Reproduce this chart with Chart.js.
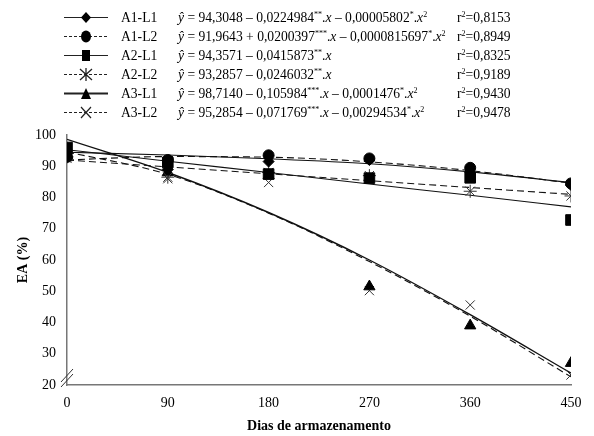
<!DOCTYPE html>
<html>
<head>
<meta charset="utf-8">
<script src="https://cdn.jsdelivr.net/npm/chart.js@4/dist/chart.umd.min.js"></script>
<style>
  body { margin: 0; background: #fff; }
  #wrap { position: relative; width: 594px; height: 436px; font-family: "Liberation Serif", serif; color: #000; }
  #myChart { position: absolute; left: 0; top: 0; }
  .row { position: absolute; left: 0; width: 594px; height: 19px; font-size: 13.6px; line-height: 19px; white-space: nowrap; }
  .row > * { position: absolute; top: 0; }
  .row svg { top: 2px; }
  sup { font-size: 8px; vertical-align: 5px; line-height: 0; }
</style>
</head>
<body>
<div id="wrap">
  <canvas id="myChart" width="594" height="436"></canvas>
  <div id="legend"></div>
</div>
<script>
// storage days
const days = [0, 90, 180, 270, 360, 450];

const seriesNames = ['A1-L1', 'A1-L2', 'A2-L1', 'A2-L2', 'A3-L1', 'A3-L2'];

// observed values (markers)
const a1l1Obs = [94, 89, 91.5, 92, 88, 84];
const a1l2Obs = [93, 92, 93.5, 92.5, 89.5, 84.5];
const a2l1Obs = [96, 91.2, 87.5, 86.2, 86.3, 72.8];
const a2l2Obs = [93, 86.5, 88, 87, 82, 80.5];
const a3l1Obs = [93.5, 88, 87, 51.5, 39, 27];
const a3l2Obs = [92.5, 86, 84.8, 50.2, 45.6, 23.2];

// fitted curves at each day
const a1l1Fit = [94.5, 93.6, 92.4, 90.8, 88.2, 84.8];
const a1l2Fit = [92, 93.1, 92.9, 91.4, 88.6, 84.6];
const a2l1Fit = [95.3, 91.6, 88, 84.3, 80.7, 77];
const a2l2Fit = [92, 89.8, 87.6, 85.4, 83.2, 81];
const a3l1Fit = [98.6, 88, 75.2, 60, 42.5, 23.8];
const a3l2Fit = [94.6, 87.4, 75, 59.5, 42, 22.6];

const equations = [
  '<i>ŷ</i> = 94,3048 – 0,0224984<sup>**</sup>.<i>x</i> – 0,00005802<sup>*</sup>.<i>x</i><sup>2</sup>',
  '<i>ŷ</i> = 91,9643 + 0,0200397<sup>***</sup>.<i>x</i> – 0,0000815697<sup>*</sup>.<i>x</i><sup>2</sup>',
  '<i>ŷ</i> = 94,3571 – 0,0415873<sup>**</sup>.<i>x</i>',
  '<i>ŷ</i> = 93,2857 – 0,0246032<sup>**</sup>.<i>x</i>',
  '<i>ŷ</i> = 98,7140 – 0,105984<sup>***</sup>.<i>x</i> – 0,0001476<sup>*</sup>.<i>x</i><sup>2</sup>',
  '<i>ŷ</i> = 95,2854 – 0,071769<sup>***</sup>.<i>x</i> – 0,00294534<sup>*</sup>.<i>x</i><sup>2</sup>'
];
const rSquared = ['0,8153', '0,8949', '0,8325', '0,9189', '0,9430', '0,9478'];

const obsList = [a1l1Obs, a1l2Obs, a2l1Obs, a2l2Obs, a3l1Obs, a3l2Obs];
const fitList = [a1l1Fit, a1l2Fit, a2l1Fit, a2l2Fit, a3l1Fit, a3l2Fit];
const markers = ['rectRot', 'circle', 'rect', 'star', 'triangle', 'crossRot'];
const markerSize = [5.5, 5.5, 7.5, 6.5, 6.5, 6.5];
const dashed = [false, true, false, true, false, true];

function toPoints(vals) {
  return vals.map((v, i) => ({ x: days[i], y: v }));
}

const datasets = [];
fitList.forEach((fit, i) => {
  datasets.push({
    label: seriesNames[i] + ' fit',
    data: toPoints(fit),
    showLine: true,
    borderColor: '#111',
    borderWidth: i == 4 ? 1.4 : 1.1,
    borderDash: dashed[i] ? [7, 4] : [],
    pointRadius: 0,
    cubicInterpolationMode: 'monotone',
    order: 2
  });
});
obsList.forEach((obs, i) => {
  const isCross = markers[i] == 'star' || markers[i] == 'crossRot';
  datasets.push({
    label: seriesNames[i],
    data: toPoints(obs),
    showLine: false,
    pointStyle: markers[i],
    pointRadius: markerSize[i],
    backgroundColor: '#000',
    borderColor: isCross ? '#333' : '#000',
    borderWidth: 1,
    order: 1
  });
});

// little // marks at the bottom of the y axis
const axisBreak = {
  id: 'axisBreak',
  afterDraw(chart) {
    const ctx = chart.ctx;
    const x0 = chart.scales.x.getPixelForValue(0);
    const y0 = chart.scales.y.getPixelForValue(20);
    ctx.save();
    ctx.strokeStyle = '#333';
    ctx.lineWidth = 1;
    ctx.beginPath();
    ctx.moveTo(x0 - 6, y0 + 2); ctx.lineTo(x0 + 6, y0 - 11);
    ctx.moveTo(x0 - 6, y0 - 3); ctx.lineTo(x0 + 6, y0 - 16);
    ctx.stroke();
    ctx.restore();
  }
};

const tickFont = { family: 'Liberation Serif', size: 14 };

new Chart(document.getElementById('myChart'), {
  type: 'scatter',
  data: { datasets: datasets },
  options: {
    responsive: false,
    animation: false,
    layout: { padding: { top: 135, right: 23, left: 0, bottom: 0 } },
    plugins: { legend: { display: false }, tooltip: { enabled: false } },
    scales: {
      x: {
        type: 'linear', min: 0, max: 450,
        grid: { display: false, drawTicks: false },
        border: { display: true, color: '#777', width: 1.5 },
        ticks: { stepSize: 90, color: '#000', font: tickFont, padding: 10 },
        title: { display: true, text: 'Dias de armazenamento', color: '#000',
                 font: { family: 'Liberation Serif', size: 14, weight: 'bold' }, padding: { top: 0, bottom: 1 } },
        afterFit: (s) => { s.height = 51; }
      },
      y: {
        min: 20, max: 100,
        grid: { display: false, drawTicks: false },
        border: { display: true, color: '#777', width: 1.5 },
        ticks: { stepSize: 10, color: '#000', font: tickFont, padding: 11 },
        title: { display: true, text: 'EA (%)', color: '#000',
                 font: { family: 'Liberation Serif', size: 14, weight: 'bold' }, padding: { top: 15, bottom: 0 } },
        afterFit: (s) => { s.width = 67; }
      }
    }
  },
  plugins: [axisBreak]
});

// legend rows
function markerSvg(i) {
  const dash = dashed[i] ? ' stroke-dasharray="3,2"' : '';
  const lw = i == 4 ? 2.2 : 1.2;
  let m = '';
  if (markers[i] == 'rectRot') m = '<polygon points="22,2 27,7.5 22,13 17,7.5" fill="#000"/>';
  if (markers[i] == 'circle') m = '<ellipse cx="22" cy="7.5" rx="5" ry="6" fill="#000"/>';
  if (markers[i] == 'rect') m = '<rect x="18" y="2" width="8" height="11" fill="#000"/>';
  if (markers[i] == 'star') m = '<path d="M16,2 L28,13 M28,2 L16,13 M22,1 L22,14" stroke="#222" stroke-width="1.3"/>';
  if (markers[i] == 'triangle') m = '<polygon points="22,2 27,13 17,13" fill="#000"/>';
  if (markers[i] == 'crossRot') m = '<path d="M17,2 L27,13 M27,2 L17,13" stroke="#222" stroke-width="1.2"/>';
  return '<svg width="44" height="15" style="left:64px">' +
    '<line x1="0" y1="7.5" x2="44" y2="7.5" stroke="#222" stroke-width="' + lw + '"' + dash + '/>' + m + '</svg>';
}

const legend = document.getElementById('legend');
const rowCenters = [17, 36, 55, 74, 93, 112];
seriesNames.forEach((name, i) => {
  const row = document.createElement('div');
  row.className = 'row';
  row.style.top = (rowCenters[i] - 9.5) + 'px';
  row.innerHTML = markerSvg(i) +
    '<span style="left:121px">' + name + '</span>' +
    '<span style="left:178px">' + equations[i] + '</span>' +
    '<span style="left:457px">r<sup>2</sup>=' + rSquared[i] + '</span>';
  legend.appendChild(row);
});
</script>
</body>
</html>
